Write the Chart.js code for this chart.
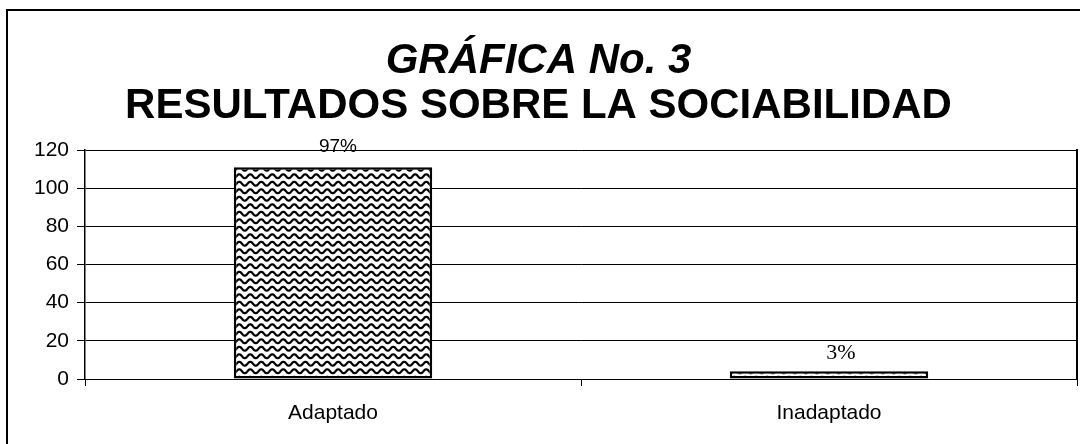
<!DOCTYPE html>
<html>
<head>
<meta charset="utf-8">
<script src="https://cdn.jsdelivr.net/npm/chart.js@4"></script>
<style>
  html, body { margin: 0; padding: 0; background: #fff; }
  #wrap { position: relative; width: 1080px; height: 444px; overflow: hidden; }
  #frame {
    position: absolute; left: 6px; top: 9px; width: 1100px; height: 500px;
    border: 2px solid #000; pointer-events: none; box-sizing: border-box;
  }
</style>
</head>
<body>
<div id="wrap">
  <canvas id="chart"></canvas>
  <div id="frame"></div>
</div>
<script>
// Data
const categories = ['Adaptado', 'Inadaptado'];
const counts = [111, 4];
const percentLabels = ['97%', '3%'];
const yTicks = [0, 20, 40, 60, 80, 100, 120];

const sans = "'Liberation Sans', Arial, sans-serif";

// Wavy black-on-white fill like the old Excel pattern
function makeWavePattern() {
    const tile = document.createElement('canvas');
    tile.width = 11;
    tile.height = 15;
    const c = tile.getContext('2d');
    c.fillStyle = '#fff';
    c.fillRect(0, 0, tile.width, tile.height);
    c.strokeStyle = '#000';
    c.lineWidth = 2.2;
    [3.75, 11.25].forEach(mid => {
        c.beginPath();
        for (let x = -1; x <= 12; x += 0.5) {
            const y = mid + 2 * Math.sin((x / 11) * Math.PI * 2);
            if (x === -1) c.moveTo(x, y); else c.lineTo(x, y);
        }
        c.stroke();
    });
    return c.createPattern(tile, 'repeat');
}

// Percent labels over the bars (first in sans, second in serif as in the scan)
const labelStyles = [
    { font: '19px ' + sans, dx: 5, offset: 15 },
    { font: "22px 'Liberation Serif', 'Times New Roman', serif", dx: 12, offset: 12 }
];

const percentPlugin = {
    id: 'percentLabels',
    afterDatasetsDraw(chart) {
        const ctx = chart.ctx;
        const meta = chart.getDatasetMeta(0);
        ctx.save();
        ctx.fillStyle = '#000';
        ctx.textAlign = 'center';
        ctx.textBaseline = 'alphabetic';
        meta.data.forEach((bar, i) => {
            const st = labelStyles[i];
            ctx.font = st.font;
            ctx.fillText(percentLabels[i], bar.x + st.dx, bar.y - st.offset);
        });
        ctx.restore();
    }
};

const ctx = document.getElementById('chart');

new Chart(ctx, {
    type: 'bar',
    data: {
        labels: categories,
        datasets: [{
            data: counts,
            backgroundColor: makeWavePattern(),
            borderColor: '#000',
            borderWidth: 2.5,
            borderSkipped: false,
            barPercentage: 0.4,
            categoryPercentage: 1
        }]
    },
    options: {
        responsive: true,
        maintainAspectRatio: false,
        animation: false,
        layout: { padding: { left: 0, right: 3, top: 0, bottom: 0 } },
        scales: {
            x: {
                offset: true,
                afterFit(scale) { scale.height = 65; },
                grid: {
                    display: true,
                    offset: true,
                    drawOnChartArea: false,
                    drawTicks: true,
                    tickLength: 7,
                    color: '#000'
                },
                border: { display: true, color: '#000', width: 1 },
                ticks: {
                    color: '#000',
                    font: { family: sans, size: 21 },
                    padding: 15
                }
            },
            y: {
                min: 0,
                max: 120,
                afterBuildTicks(scale) {
                    scale.ticks = yTicks.map(v => ({ value: v }));
                },
                afterFit(scale) { scale.width = 85; },
                grid: {
                    color: '#000',
                    lineWidth: 1,
                    drawTicks: true,
                    tickLength: 8
                },
                border: { display: true, color: '#000', width: 1.5 },
                ticks: {
                    color: '#000',
                    font: { family: sans, size: 21 },
                    padding: 8
                }
            },
            yRight: {
                position: 'right',
                min: 0,
                max: 120,
                afterFit(scale) { scale.width = 0; },
                grid: { display: false },
                ticks: { display: false },
                border: { display: true, color: '#000', width: 2 }
            }
        },
        plugins: {
            legend: { display: false },
            tooltip: { enabled: false },
            title: {
                display: true,
                text: 'GRÁFICA No. 3',
                color: '#000',
                font: { family: sans, size: 42, weight: 'bold', style: 'italic', lineHeight: 1 },
                padding: { top: 40, bottom: 0 }
            },
            subtitle: {
                display: true,
                text: 'RESULTADOS SOBRE LA SOCIABILIDAD',
                color: '#000',
                font: { family: sans, size: 42, weight: 'bold', lineHeight: 1 },
                padding: { top: 3, bottom: 23 }
            }
        }
    },
    plugins: [percentPlugin]
});
</script>
</body>
</html>
